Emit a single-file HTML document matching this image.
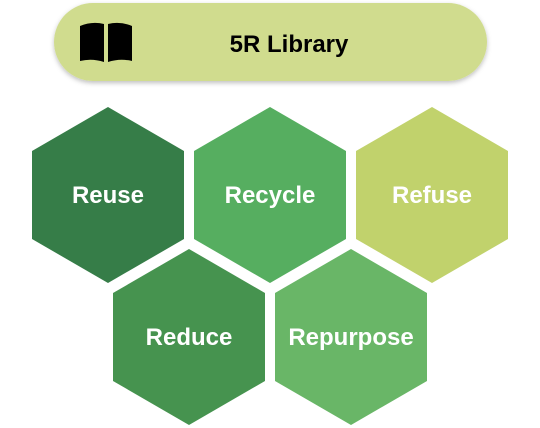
<!DOCTYPE html>
<html><head><meta charset="utf-8"><style>
html,body{margin:0;padding:0;background:#fff;width:540px;height:428px;overflow:hidden}
</style></head><body>
<svg width="540" height="428" xmlns="http://www.w3.org/2000/svg" font-family="Liberation Sans, sans-serif">
<defs><filter id="s" x="-10%" y="-30%" width="120%" height="160%"><feDropShadow dx="0" dy="2" stdDeviation="2.5" flood-opacity="0.25"/></filter></defs>
<rect x="54" y="3" width="433" height="78" rx="39" fill="#d0dc8e" filter="url(#s)"/>
<g fill="#000">
<path d="M80 26 Q92 21 104 24 L104 62 Q92 58 80 61 Z"/>
<path d="M108 24 Q120 21 132 26 L132 61 Q120 58 108 62 Z"/>
</g>
<text x="289" y="52" font-size="24" font-weight="bold" text-anchor="middle" fill="#000">5R Library</text>
<g font-size="24" font-weight="bold" fill="#fff" text-anchor="middle">
<polygon points="108,107 184,151 184,239 108,283 32,239 32,151" fill="#367d48"/>
<text x="108" y="203">Reuse</text>
<polygon points="270,107 346,151 346,239 270,283 194,239 194,151" fill="#56ae60"/>
<text x="270" y="203">Recycle</text>
<polygon points="432,107 508,151 508,239 432,283 356,239 356,151" fill="#c1d26c"/>
<text x="432" y="203">Refuse</text>
<polygon points="189,249 265,293 265,381 189,425 113,381 113,293" fill="#46934f"/>
<text x="189" y="345">Reduce</text>
<polygon points="351,249 427,293 427,381 351,425 275,381 275,293" fill="#69b667"/>
<text x="351" y="345">Repurpose</text>
</g>
</svg>
</body></html>
